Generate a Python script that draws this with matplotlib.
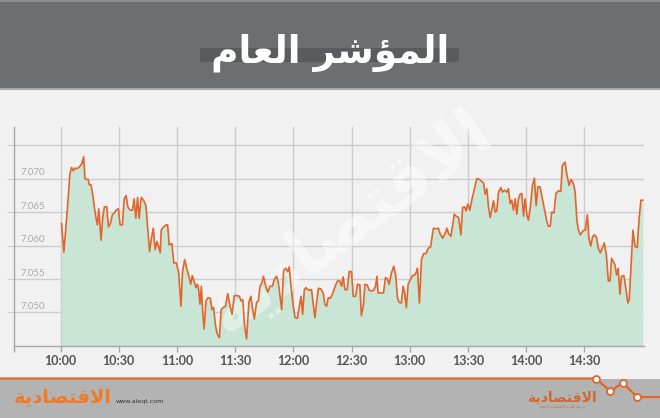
import matplotlib
matplotlib.use("Agg")
import matplotlib.pyplot as plt
from matplotlib.patches import Rectangle
from matplotlib.transforms import blended_transform_factory

# === Data: Saudi general index, intraday (minutes after 10:00) ===
minutes = [
    0.5, 1.7, 3.4, 4.8, 5.7, 6.6, 7.4, 8.3, 9.5, 10.9, 11.9, 12.6, 13.4, 14.3, 14.8,
    15.7, 16.5, 17.4, 18.3, 19.0, 19.7, 20.9, 21.7, 22.6, 23.8, 24.7, 25.7, 26.7, 27.8,
    28.6, 29.8, 30.7, 31.9, 32.8, 33.8, 34.7, 35.9, 37.1, 37.9, 38.8, 39.7, 40.5, 41.6,
    42.8, 44.0, 45.0, 45.9, 46.7, 47.8, 48.8, 49.7, 50.5, 51.4, 51.9, 53.1, 54.5, 55.2,
    56.0, 57.4, 58.4, 59.7, 60.9, 62.1, 62.9, 64.0, 65.2, 66.0, 67.1, 67.9, 69.1, 69.8,
    70.5, 71.2, 71.9, 72.6, 73.3, 74.0, 75.0, 76.0, 77.2, 78.1, 78.9, 79.8, 80.7, 81.9,
    82.8, 83.8, 85.0, 86.2, 87.2, 88.4, 89.6, 91.0, 92.2, 93.1, 94.0, 94.8, 95.9, 97.1,
    98.1, 98.9, 99.9, 101.1, 102.0, 102.8, 103.7, 104.6, 105.8, 106.8, 108.0, 109.2,
    110.2, 111.4, 112.3, 114.0, 115.0, 116.1, 117.1, 117.9, 118.8, 120.0, 120.9, 122.1,
    123.1, 124.0, 124.8, 125.7, 126.5, 127.4, 128.6, 129.4, 130.3, 131.1, 132.0, 132.9,
    134.2, 135.4, 136.3, 137.2, 138.0, 139.1, 140.1, 141.1, 142.0, 142.8, 144.0, 144.9,
    145.7, 146.6, 147.8, 148.8, 150.0, 150.9, 152.1, 153.1, 154.3, 155.1, 156.2, 156.9,
    158.1, 159.1, 160.3, 161.4, 162.4, 163.1, 163.7, 165.1, 166.5, 167.5, 168.5, 169.4,
    170.6, 171.8, 172.8, 173.7, 174.5, 175.7, 176.6, 177.5, 178.3, 179.2, 180.4, 181.4,
    182.6, 183.5, 184.0, 185.0, 186.1, 187.2, 188.4, 189.6, 190.8, 192.2, 193.4, 194.8,
    195.6, 197.0, 198.3, 199.2, 200.0, 201.3, 203.0, 204.0, 205.2, 206.4, 207.3, 208.3,
    209.1, 210.0, 211.0, 212.0, 213.4, 214.6, 215.5, 216.7, 218.1, 218.9, 219.8, 220.6,
    221.5, 222.3, 223.2, 224.1, 224.9, 225.8, 227.0, 227.8, 228.9, 230.1, 230.9, 231.8,
    232.6, 233.5, 234.4, 235.2, 236.1, 236.9, 237.8, 238.7, 239.5, 240.4, 241.2, 242.1,
    243.3, 244.3, 245.2, 246.1, 247.2, 248.4, 249.5, 250.7, 251.5, 252.5, 253.2, 254.4,
    255.4, 256.7, 257.9, 258.7, 260.1, 261.0, 262.2, 263.2, 264.4, 265.3, 266.2, 267.0,
    267.9, 268.7, 269.7, 270.5, 271.6, 272.4, 273.3, 274.3, 275.2, 276.4, 277.2, 278.3,
    279.3, 280.3, 281.4, 282.4, 283.3, 284.1, 285.0, 285.8, 286.7, 287.5, 288.4, 289.2,
    290.4, 291.3, 292.5, 293.2, 294.0, 295.1, 296.1, 297.3, 298.3, 299.2, 300.2,
]
index_values = [
    7.0633, 7.0590, 7.0650, 7.0707, 7.0717, 7.0712, 7.0716, 7.0715, 7.0717, 7.0722,
    7.0733, 7.0700, 7.0699, 7.0699, 7.0691, 7.0691, 7.0678, 7.0658, 7.0641, 7.0631,
    7.0655, 7.0608, 7.0641, 7.0658, 7.0658, 7.0628, 7.0633, 7.0646, 7.0649, 7.0653,
    7.0655, 7.0631, 7.0631, 7.0670, 7.0675, 7.0658, 7.0653, 7.0653, 7.0670, 7.0641,
    7.0672, 7.0641, 7.0672, 7.0668, 7.0660, 7.0623, 7.0591, 7.0608, 7.0626, 7.0594,
    7.0606, 7.0599, 7.0589, 7.0623, 7.0628, 7.0631, 7.0631, 7.0601, 7.0603, 7.0574,
    7.0574, 7.0559, 7.0509, 7.0561, 7.0579, 7.0564, 7.0556, 7.0542, 7.0555, 7.0544,
    7.0537, 7.0542, 7.0534, 7.0512, 7.0539, 7.0500, 7.0475, 7.0517, 7.0522, 7.0521,
    7.0504, 7.0507, 7.0482, 7.0468, 7.0462, 7.0504, 7.0507, 7.0509, 7.0528, 7.0512,
    7.0497, 7.0525, 7.0525, 7.0524, 7.0517, 7.0519, 7.0482, 7.0460, 7.0515, 7.0524,
    7.0507, 7.0490, 7.0515, 7.0517, 7.0539, 7.0543, 7.0554, 7.0539, 7.0530, 7.0539,
    7.0539, 7.0549, 7.0554, 7.0544, 7.0504, 7.0563, 7.0566, 7.0561, 7.0568, 7.0539,
    7.0509, 7.0492, 7.0491, 7.0509, 7.0524, 7.0497, 7.0534, 7.0537, 7.0534, 7.0533,
    7.0534, 7.0512, 7.0492, 7.0514, 7.0536, 7.0535, 7.0529, 7.0512, 7.0509, 7.0522,
    7.0521, 7.0527, 7.0535, 7.0542, 7.0547, 7.0547, 7.0539, 7.0553, 7.0534, 7.0534,
    7.0561, 7.0561, 7.0524, 7.0524, 7.0542, 7.0541, 7.0495, 7.0512, 7.0542, 7.0541,
    7.0533, 7.0532, 7.0533, 7.0539, 7.0554, 7.0529, 7.0529, 7.0529, 7.0552, 7.0550,
    7.0542, 7.0559, 7.0569, 7.0555, 7.0522, 7.0515, 7.0514, 7.0539, 7.0527, 7.0507,
    7.0542, 7.0549, 7.0555, 7.0556, 7.0561, 7.0566, 7.0514, 7.0579, 7.0588, 7.0588,
    7.0596, 7.0598, 7.0626, 7.0625, 7.0626, 7.0618, 7.0611, 7.0618, 7.0626, 7.0618,
    7.0614, 7.0647, 7.0644, 7.0642, 7.0616, 7.0657, 7.0658, 7.0652, 7.0662, 7.0653,
    7.0668, 7.0685, 7.0700, 7.0700, 7.0697, 7.0694, 7.0677, 7.0685, 7.0658, 7.0642,
    7.0653, 7.0667, 7.0650, 7.0652, 7.0680, 7.0687, 7.0680, 7.0683, 7.0680, 7.0685,
    7.0663, 7.0668, 7.0653, 7.0670, 7.0647, 7.0670, 7.0677, 7.0678, 7.0644, 7.0670,
    7.0646, 7.0638, 7.0655, 7.0690, 7.0701, 7.0660, 7.0688, 7.0688, 7.0670, 7.0653,
    7.0636, 7.0629, 7.0629, 7.0650, 7.0649, 7.0678, 7.0682, 7.0681, 7.0720, 7.0725,
    7.0707, 7.0690, 7.0699, 7.0693, 7.0680, 7.0638, 7.0623, 7.0616, 7.0619, 7.0623,
    7.0623, 7.0646, 7.0611, 7.0599, 7.0613, 7.0616, 7.0612, 7.0596, 7.0589, 7.0596,
    7.0604, 7.0586, 7.0547, 7.0547, 7.0581, 7.0576, 7.0571, 7.0556, 7.0566, 7.0527,
    7.0554, 7.0555, 7.0539, 7.0514, 7.0519, 7.0563, 7.0623, 7.0599, 7.0597, 7.0641,
    7.0668, 7.0668,
]
tick_minutes = [0, 30, 60, 90, 120, 150, 180, 210, 240, 270]
tick_labels = ["10:00", "10:30", "11:00", "11:30", "12:00",
               "12:30", "13:00", "13:30", "14:00", "14:30"]
grid_levels = [7.050, 7.055, 7.060, 7.065, 7.070, 7.075]
level_labels = ["7.050", "7.055", "7.060", "7.065", "7.070"]

title = "المؤشر العام"
brand = "الاقتصادية"
brand_sub = "جريدة العرب الاقتصادية الدولية"
site = "www.aleqt.com"

ORANGE = "#e2652c"

# matplotlib has no Arabic shaping, so map letters to presentation forms
# (isolated, final, initial, medial) and lay them out right to left
FORMS = {
    "ا": ("\uFE8D", "\uFE8E", None, None),
    "ل": ("\uFEDD", "\uFEDE", "\uFEDF", "\uFEE0"),
    "م": ("\uFEE1", "\uFEE2", "\uFEE3", "\uFEE4"),
    "ؤ": ("\uFE85", "\uFE86", None, None),
    "ش": ("\uFEB5", "\uFEB6", "\uFEB7", "\uFEB8"),
    "ر": ("\uFEAD", "\uFEAE", None, None),
    "ع": ("\uFEC9", "\uFECA", "\uFECB", "\uFECC"),
    "ق": ("\uFED5", "\uFED6", "\uFED7", "\uFED8"),
    "ت": ("\uFE95", "\uFE96", "\uFE97", "\uFE98"),
    "ص": ("\uFEB9", "\uFEBA", "\uFEBB", "\uFEBC"),
    "د": ("\uFEA9", "\uFEAA", None, None),
    "ي": ("\uFEF1", "\uFEF2", "\uFEF3", "\uFEF4"),
    "ة": ("\uFE93", "\uFE94", None, None),
    "ج": ("\uFE9D", "\uFE9E", "\uFE9F", "\uFEA0"),
    "ب": ("\uFE8F", "\uFE90", "\uFE91", "\uFE92"),
    "و": ("\uFEED", "\uFEEE", None, None),
}


def shape(text):
    out = []
    link = False  # previous glyph joins to this one
    i = 0
    while i < len(text):
        c = text[i]
        if c not in FORMS:
            out.append(c)
            link = False
            i += 1
            continue
        if c == "ل" and i + 1 < len(text) and text[i + 1] == "ا":
            out.append("\uFEFC" if link else "\uFEFB")
            link = False
            i += 2
            continue
        iso, fin, ini, med = FORMS[c]
        nxt = text[i + 1] if i + 1 < len(text) else ""
        joins_next = ini is not None and nxt in FORMS
        if link and joins_next:
            out.append(med)
        elif link:
            out.append(fin)
        elif joins_next:
            out.append(ini)
        else:
            out.append(iso)
        link = joins_next
        i += 1
    return "".join(reversed(out))


W, H = 660, 418
fig = plt.figure(figsize=(W / 100, H / 100), dpi=100, facecolor="#f1f1f1")

# Background layer in pixel coordinates
bg = fig.add_axes([0, 0, 1, 1], zorder=0)
bg.set_xlim(0, W)
bg.set_ylim(H, 0)
bg.axis("off")

bg.add_patch(Rectangle((0, 0), W, 88, color="#6d6e72", lw=0))
bg.add_patch(Rectangle((0, 0), W, 2, color="#8d8e91", lw=0))
bg.plot([0, W], [88.5, 88.5], color="#a8a8a8", lw=1.5)
bg.add_patch(Rectangle((200, 48), 259, 14, color="#5a5b5f", lw=0))
bg.text(330, 53, shape(title), color="white", fontsize=27, fontweight="bold",
        family="DejaVu Sans", ha="center", va="center")

# Footer
bg.add_patch(Rectangle((0, 379), W, 39, color="#b3b3b3", lw=0))
bg.plot([0, 596, 610, 623, 637, W], [378.5, 378.5, 391, 383, 397, 397],
        color=ORANGE, lw=1.6, solid_joinstyle="round")
bg.plot([596, 610, 623, 637], [378.5, 391, 383, 397], ls="none", marker="o",
        ms=5, mfc="white", mec=ORANGE, mew=1.3)
bg.text(116, 401, site, fontsize=4.5, color="#333333", ha="left", va="center")
bg.text(63, 397, shape(brand), fontsize=14, fontweight="bold", color="#f07b26",
        family="DejaVu Sans", ha="center", va="center")
bg.text(562, 398, shape(brand), fontsize=10, fontweight="bold", color="#cf6a2e",
        family="DejaVu Sans", ha="center", va="center")
bg.text(562, 406.5, shape(brand_sub), fontsize=2.6, color="#cf6a2e",
        family="DejaVu Sans", ha="center", va="center")

# Chart axes
left, right, top, bottom = 14, 644, 126.7, 345.7
ax = fig.add_axes([left / W, 1 - bottom / H, (right - left) / W, (bottom - top) / H],
                  zorder=1)
ax.patch.set_alpha(0)
ax.set_xlim(-24, 300.8)
ax.set_ylim(7.045, 7.0778)

ax.fill_between(minutes, index_values, 7.045, color="#c9e5d5", lw=0, zorder=1)
ax.plot(minutes, index_values, color=ORANGE, lw=1.2, zorder=3)

# watermark sits between the fill and the line
ax.text(350, 222, shape(brand), transform=bg.transData, fontsize=48,
        fontweight="bold", color="white", alpha=0.45, rotation=36,
        family="DejaVu Sans", ha="center", va="center", zorder=2)

ax.set_yticks(grid_levels)
ax.set_xticks(tick_minutes)
ax.set_xticks([-24], minor=True)
ax.set_xticklabels(tick_labels, fontsize=9, color="#555555", family="Lato",
                   fontweight="bold")
ax.grid(True, color="#cdcdcd", lw=1)
ax.set_axisbelow(True)
ax.tick_params(axis="y", length=5, color="#cdcdcd", labelleft=False)
ax.tick_params(axis="x", which="both", length=4.5, color="#a6a6a6", width=1, pad=2.5)

trans = blended_transform_factory(ax.transAxes, ax.transData)
for lvl, lab in zip(grid_levels, level_labels):
    ax.text(0.011, lvl + 0.0002, lab, transform=trans, fontsize=7, color="#a9a9a9",
            family="Lato", ha="left", va="bottom")

for side in ["top", "right"]:
    ax.spines[side].set_visible(False)
for side in ["left", "bottom"]:
    ax.spines[side].set_color("#a6a6a6")
    ax.spines[side].set_linewidth(1)

fig.savefig("out.png", dpi=100, facecolor=fig.get_facecolor())
